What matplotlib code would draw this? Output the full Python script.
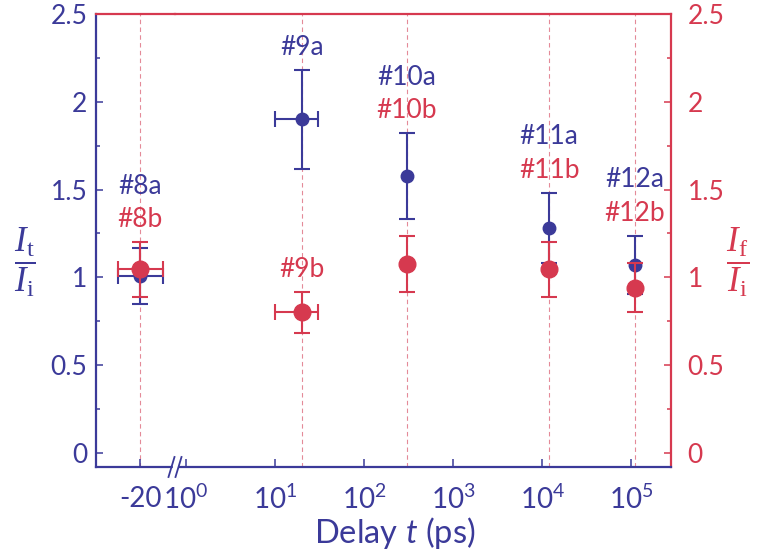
import matplotlib
matplotlib.use('Agg')
import matplotlib.pyplot as plt
from matplotlib.lines import Line2D
from matplotlib.patches import Rectangle
from matplotlib.ticker import LogLocator, NullFormatter, MultipleLocator

BLUE = '#3b3a99'
RED = '#d6394f'
PINK = '#e48a98'

plt.rcParams['font.family'] = ['Lato', 'DejaVu Sans']
plt.rcParams['mathtext.fontset'] = 'custom'
plt.rcParams['mathtext.rm'] = 'Lato'
plt.rcParams['mathtext.it'] = 'Lato:italic'
plt.rcParams['mathtext.bf'] = 'Liberation Serif:italic'
plt.rcParams['mathtext.sf'] = 'Liberation Serif'

# runs #8 .. #12
runs = ['8', '9', '10', '11', '12']
# delay in ps (first run is the negative delay on the linear segment)
delay = [-20, 20, 300, 12000, 110000]
delay_err = [10, 10, 0, 0, 0]
# transmitted / incident
ratio_t = [1.01, 1.90, 1.575, 1.28, 1.07]
ratio_t_err = [0.16, 0.28, 0.245, 0.20, 0.165]
# fluorescence / incident
ratio_f = [1.045, 0.80, 1.075, 1.045, 0.94]
ratio_f_err = [0.155, 0.115, 0.16, 0.155, 0.14]

y_ticks = [0, 0.5, 1, 1.5, 2, 2.5]
y_tick_labels = ['0', '0.5', '1', '1.5', '2', '2.5']
log_ticks = [1, 10, 100, 1000, 10000, 100000]
log_tick_labels = [r'$10^{0}$', r'$10^{1}$', r'$10^{2}$', r'$10^{3}$', r'$10^{4}$', r'$10^{5}$']

W, H = 759, 560
fig = plt.figure(figsize=(W / 100, H / 100), dpi=100)


def box(x0, x1, y0=14, y1=467):
    return [x0 / W, 1 - y1 / H, (x1 - x0) / W, (y1 - y0) / H]


axL = fig.add_axes(box(95.5, 175))
axR = fig.add_axes(box(175, 671))

for ax in (axL, axR):
    ax.set_ylim(-0.08, 2.5)
    ax.patch.set_alpha(0)
    ax.spines['bottom'].set_color(BLUE)
    ax.spines['top'].set_color(RED)
    ax.spines['left'].set_color(BLUE)
    for s in ax.spines.values():
        s.set_linewidth(1.6)
    ax.spines['right'].set_visible(False)
    ax.tick_params(axis='x', which='both', direction='in', colors=BLUE,
                   labelsize=20, width=1.1)
    ax.tick_params(axis='x', which='major', length=5.5)
    ax.tick_params(axis='x', which='minor', length=3)
axR.spines['left'].set_visible(False)

# left segment: linear, only the -20 ps run
axL.set_xlim(-40, -4.5)
axL.set_xticks([delay[0]], ['-20'])
axL.tick_params(axis='x', pad=13.5)
axL.set_yticks(y_ticks, y_tick_labels)
axL.yaxis.set_minor_locator(MultipleLocator(0.25))
axL.tick_params(axis='y', which='both', direction='in', colors=BLUE,
                labelsize=19, width=1.1, pad=6)
axL.tick_params(axis='y', which='major', length=5)
axL.tick_params(axis='y', which='minor', length=3)

# right segment: log delay axis
axR.set_xscale('log')
axR.set_xlim(0.752, 2.8e5)
axR.set_xticks(log_ticks, log_tick_labels)
axR.xaxis.set_minor_locator(LogLocator(subs=(3, 4.5, 6, 7.5, 9)))
axR.xaxis.set_minor_formatter(NullFormatter())
axR.tick_params(axis='x', pad=13)
axR.tick_params(axis='y', which='both', left=False, labelleft=False)

# right-hand axis for the fluorescence ratio
sec = axR.secondary_yaxis('right')
sec.set_yticks(y_ticks, y_tick_labels)
sec.yaxis.set_minor_locator(MultipleLocator(0.25))
sec.spines['right'].set_color(RED)
sec.spines['right'].set_linewidth(1.6)
sec.tick_params(axis='y', which='both', direction='in', colors=RED,
                labelsize=19, width=1.1, pad=12)
sec.tick_params(axis='y', which='major', length=5)
sec.tick_params(axis='y', which='minor', length=3)

eb = dict(fmt='o', capsize=5.5, elinewidth=1.5, capthick=1.5)

for i in range(len(runs)):
    ax = axL if delay[i] < 0 else axR
    ax.axvline(delay[i], color=PINK, lw=0.8, dashes=(4, 3), zorder=0)
    xerr = delay_err[i] if delay_err[i] else None
    ax.errorbar(delay[i], ratio_t[i], yerr=ratio_t_err[i], xerr=xerr,
                color=BLUE, ms=9, zorder=3, **eb)
    ax.errorbar(delay[i], ratio_f[i], yerr=ratio_f_err[i], xerr=xerr,
                color=RED, ms=12, zorder=4, **eb)

    top_t = ratio_t[i] + ratio_t_err[i]
    top_f = ratio_f[i] + ratio_f_err[i]
    if top_t - top_f > 1.0:
        # labels sit over their own point
        ax.text(delay[i], top_t + 0.13, '#' + runs[i] + 'a', color=BLUE,
                fontsize=19, ha='center', va='center')
        ax.text(delay[i], top_f + 0.13, '#' + runs[i] + 'b', color=RED,
                fontsize=19, ha='center', va='center')
    else:
        yb = max(top_t, top_f) + 0.13
        ax.text(delay[i], yb + 0.19, '#' + runs[i] + 'a', color=BLUE,
                fontsize=19, ha='center', va='center')
        ax.text(delay[i], yb, '#' + runs[i] + 'b', color=RED,
                fontsize=19, ha='center', va='center')

# axis break on the bottom spine
fig.add_artist(Rectangle((172.5 / W, 1 - 470 / H), 4.5 / W, 6 / H,
                         transform=fig.transFigure, color='white', zorder=10))
for x0 in (168.5, 175.5):
    fig.add_artist(Line2D([x0 / W, (x0 + 6) / W], [1 - 477 / H, 1 - 457 / H],
                          transform=fig.transFigure, color=BLUE, lw=1.3, zorder=11))

fig.text(25 / W, 1 - 262 / H, r'$\dfrac{\mathbf{I}_\mathsf{t}}{\mathbf{I}_\mathsf{i}}$',
         color=BLUE, fontsize=25, ha='center', va='center')
fig.text(738 / W, 1 - 262 / H, r'$\dfrac{\mathbf{I}_\mathsf{f}}{\mathbf{I}_\mathsf{i}}$',
         color=RED, fontsize=25, ha='center', va='center')
fig.text(395 / W, 1 - 543 / H, r'Delay $t$ (ps)', color=BLUE, fontsize=23.5,
         ha='center', va='baseline')

fig.savefig('out.png', dpi=100)
